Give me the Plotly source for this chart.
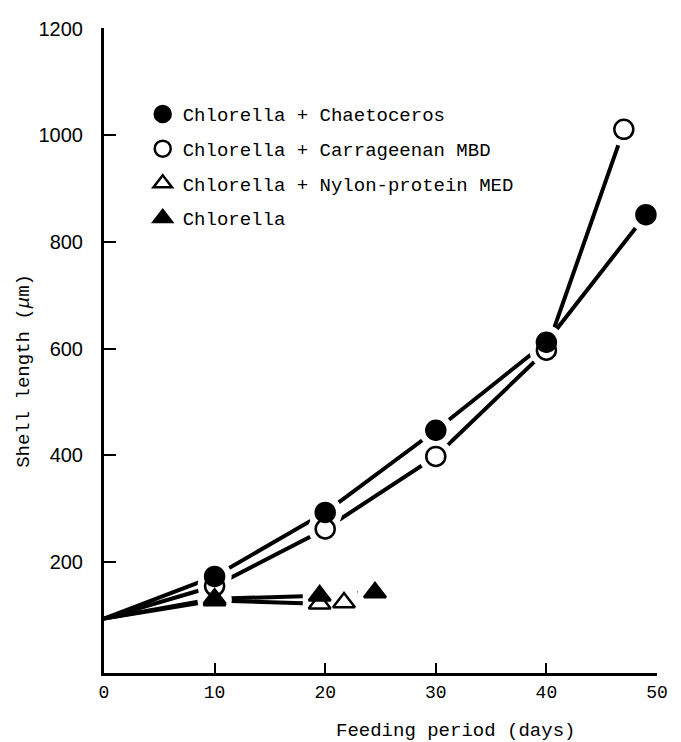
import plotly.graph_objects as go

# feeding period (days) and shell length (um), first point = start size
days_chaet = [0, 10, 20, 30, 40, 49]
len_chaet = [94, 173, 293, 447, 612, 851]

days_carra = [0, 10, 20, 30, 40, 47]
len_carra = [94, 155, 262, 398, 597, 1011]

days_nylon = [0, 10, 19.5, 21.7]
len_nylon = [94, 128, 122, 124]

days_chlor = [0, 10, 19.5, 24.5]
len_chlor = [94, 131, 137, 143]

names = ["Chlorella + Chaetoceros", "Chlorella + Carrageenan MBD",
         "Chlorella + Nylon-protein MED", "Chlorella"]
symbols = ["circle", "circle-open", "triangle-up-open", "triangle-up"]
series = [(days_chaet, len_chaet), (days_carra, len_carra),
          (days_nylon, len_nylon), (days_chlor, len_chlor)]

mono = "Liberation Mono, DejaVu Sans Mono, monospace"

fig = go.Figure()

# lines first
for (x, y) in series:
    fig.add_trace(go.Scatter(x=x, y=y, mode="lines", showlegend=False,
                             line=dict(color="black", width=4),
                             hoverinfo="skip"))

# white halos so the lines stop short of the markers
hx, hy = [], []
for (x, y) in series:
    hx += x[1:]
    hy += y[1:]
fig.add_trace(go.Scatter(x=hx, y=hy, mode="markers", showlegend=False,
                         marker=dict(color="white", size=34),
                         hoverinfo="skip"))

# markers
for i, (x, y) in enumerate(series):
    fig.add_trace(go.Scatter(x=x[1:], y=y[1:], mode="markers", name=names[i],
                             legendgroup=str(i),
                             marker=dict(symbol=symbols[i], size=19, color="black",
                                         line=dict(color="black", width=2.5))))

# page body has an 8px margin, so the figure is a bit smaller than the window
fig.update_layout(
    width=673, height=734,
    margin=dict(l=96, r=24, t=10, b=69),
    paper_bgcolor="white", plot_bgcolor="white",
    font=dict(family=mono, size=19, color="black"),
    legend=dict(x=0.07, y=0.896, xanchor="left", yanchor="top",
                bgcolor="rgba(0,0,0,0)", tracegroupgap=7,
                font=dict(family=mono, size=19)),
    annotations=[
        dict(text="Feeding period (days)", x=0.636, y=-0.09, xref="paper", yref="paper",
             xanchor="center", yanchor="middle",
             showarrow=False, font=dict(family=mono, size=19, color="black")),
        dict(text="Shell length (<i>μ</i>m)", x=-0.144, y=0.469, xref="paper", yref="paper",
             xanchor="center", yanchor="middle",
             showarrow=False, textangle=-90, font=dict(family=mono, size=19, color="black")),
    ],
)
fig.update_xaxes(range=[0, 50], tickvals=[0, 10, 20, 30, 40, 50],
                 showgrid=False, zeroline=False,
                 showline=True, linecolor="black", linewidth=3,
                 ticks="inside", ticklen=10, tickwidth=2, tickcolor="black",
                 ticklabeloverflow="allow",
                 tickfont=dict(family=mono, size=18))
fig.update_yaxes(range=[-8, 1201], tickvals=[200, 400, 600, 800, 1000, 1200],
                 showgrid=False, zeroline=False,
                 showline=True, linecolor="black", linewidth=3,
                 ticks="inside", ticklen=12, tickwidth=2, tickcolor="black",
                 ticklabelstandoff=14, ticklabeloverflow="allow",
                 tickfont=dict(family="Liberation Sans, Arial, sans-serif", size=20))

fig.write_html("out.html")
